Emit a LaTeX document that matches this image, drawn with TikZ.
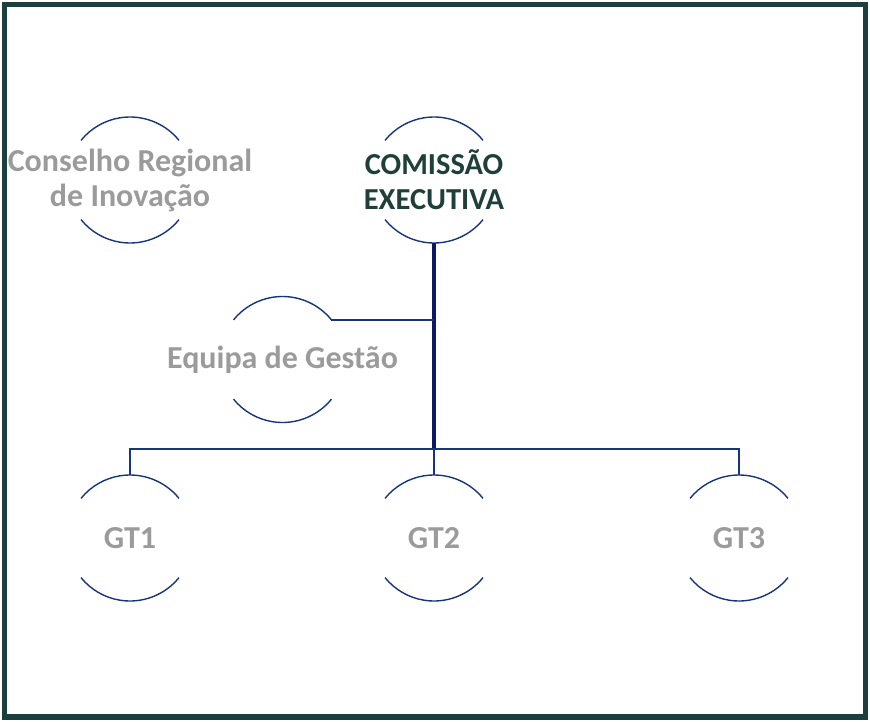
\documentclass[tikz,border=0pt]{standalone}
\usepackage{fontspec}
\setmainfont{Carlito}
\definecolor{framegreen}{HTML}{1B3F3C}
\definecolor{arcnavy}{HTML}{17347F}
\definecolor{trunknavy}{HTML}{0C1A63}
\definecolor{txtgray}{HTML}{9B9B9B}
\definecolor{txtgreen}{HTML}{1E3F3A}
\begin{document}
\begin{tikzpicture}[x=1pt,y=-1pt,
  unit/.style={inner sep=0pt,font=\bfseries\fontsize{32}{35}\selectfont,text=txtgray,align=center},
  arcline/.style={draw=arcnavy,line width=1.4pt},
  link/.style={draw=arcnavy,line width=1.4pt},
  trunk/.style={draw=trunknavy,line width=3.3pt}]
\useasboundingbox (0,0) rectangle (870,722);
\draw[framegreen,line width=5.5pt] (4.5,4.5) rectangle (865.5,717);
% nodes
\node[unit] (cri) at (130,180) {Conselho Regional\\de Inovação};
\node[unit,text=txtgreen,font=\bfseries\fontsize{30.5}{35}\selectfont] (ce) at (434,180) {COMISSÃO\\EXECUTIVA};
\node[unit] (eg) at (282.5,359.5) {Equipa de Gestão};
\node[unit] (gt1) at (130,538) {GT1};
\node[unit] (gt2) at (434,538) {GT2};
\node[unit] (gt3) at (739,538) {GT3};
% arcs
\foreach \n in {cri,ce,eg,gt1,gt2,gt3}{
  \draw[arcline] ([shift={(39:63pt)}]\n.center) arc[start angle=39,end angle=141,radius=63pt];
  \draw[arcline] ([shift={(-39:63pt)}]\n.center) arc[start angle=-39,end angle=-141,radius=63pt];
  \coordinate (\n-top) at ([shift={(0pt,63pt)}]\n.center);
  \coordinate (\n-bot) at ([shift={(0pt,-63pt)}]\n.center);
  \coordinate (\n-ne) at ([shift={(39:63pt)}]\n.center);
}
% connectors
\coordinate (jb) at (434,449);
\draw[trunk] (ce-bot) -- (jb);
\draw[link] (eg-ne) -- (eg-ne -| ce-bot);
\draw[link] (jb) -- (gt2-top);
\draw[link] (gt1-top) |- (jb) -| (gt3-top);
\end{tikzpicture}
\end{document}
